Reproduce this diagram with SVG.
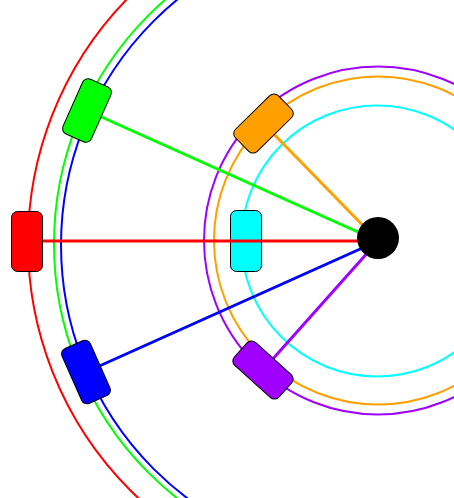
<svg xmlns="http://www.w3.org/2000/svg" width="454" height="498" viewBox="0 0 454 498">
<style>
.orbit{fill:none;stroke-width:2}
.edge{fill:none;stroke-width:3}
.node rect{stroke:#000;stroke-width:1}
</style>
<rect width="454" height="498" fill="#fff"/>
<g id="orbits">
<circle class="orbit" cx="378" cy="243" r="350" stroke="#ff0000"/>
<circle class="orbit" cx="378" cy="244" r="324" stroke="#00ff00"/>
<circle class="orbit" cx="378" cy="245" r="317" stroke="#0000ff"/>
<circle class="orbit" cx="378" cy="240.5" r="174" stroke="#9f00ff"/>
<circle class="orbit" cx="378" cy="240.5" r="164" stroke="#ff9f00"/>
<circle class="orbit" cx="377" cy="241" r="135.5" stroke="#00ffff"/>
</g>
<g id="node-cyan" class="node"><rect x="230.5" y="210.5" width="31" height="61" rx="6" fill="#00ffff"/></g>
<g id="connectors">
<line class="edge" x1="27" y1="241" x2="378" y2="241" stroke="#ff0000"/>
<line class="edge" x1="87" y1="110.5" x2="378" y2="241" stroke="#00ff00"/>
<line class="edge" x1="86" y1="372" x2="378" y2="241" stroke="#0000ff"/>
<line class="edge" x1="263.5" y1="123.5" x2="378" y2="241" stroke="#ff9f00"/>
<line class="edge" x1="263" y1="370" x2="378" y2="241" stroke="#9f00ff"/>
</g>
<g id="node-red" class="node"><rect x="11.5" y="211.5" width="31" height="60" rx="6" fill="#ff0000"/></g>
<g id="node-green" class="node"><rect x="-15.5" y="-30" width="31" height="60" rx="6" fill="#00ff00" transform="translate(87 110.5) rotate(24)"/></g>
<g id="node-blue" class="node"><rect x="-15.5" y="-30" width="31" height="60" rx="6" fill="#0000ff" transform="translate(86 372) rotate(-24)"/></g>
<g id="node-orange" class="node"><rect x="-15.5" y="-30" width="31" height="60" rx="6" fill="#ff9f00" transform="translate(263.5 123.5) rotate(45.5)"/></g>
<g id="node-purple" class="node"><rect x="-15.5" y="-30" width="31" height="60" rx="6" fill="#9f00ff" transform="translate(263 370) rotate(-48)"/></g>
<g id="hub"><circle cx="378" cy="238" r="21" fill="#000"/></g>
</svg>
